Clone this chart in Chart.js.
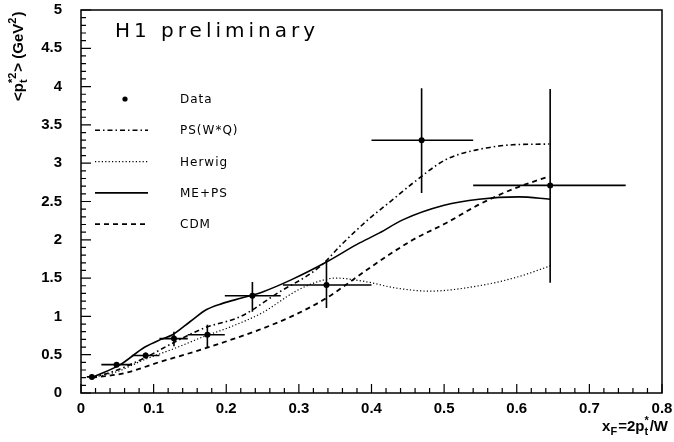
<!DOCTYPE html>
<html>
<head>
<meta charset="utf-8">
<script src="https://cdn.jsdelivr.net/npm/chart.js@4"></script>
<style>
  body { margin: 0; background: #fff; }
</style>
</head>
<body>
<canvas id="chart" width="674" height="442"></canvas>
<script>
// H1 data points with error bars
const dataX   = [0.015, 0.049, 0.089, 0.128, 0.174, 0.236, 0.338, 0.469, 0.646];
const dataY   = [0.21, 0.37, 0.49, 0.71, 0.76, 1.27, 1.41, 3.30, 2.71];
const dataXlo = [0.008, 0.028, 0.070, 0.108, 0.147, 0.198, 0.278, 0.400, 0.540];
const dataXhi = [0.022, 0.070, 0.108, 0.147, 0.198, 0.275, 0.400, 0.540, 0.750];
const dataYlo = [0.18, 0.34, 0.45, 0.61, 0.60, 1.06, 1.11, 2.61, 1.44];
const dataYhi = [0.24, 0.40, 0.53, 0.80, 0.89, 1.45, 1.71, 3.98, 3.97];

// model curves
const psX = [0.015, 0.05, 0.09, 0.126, 0.17, 0.22, 0.27, 0.329, 0.36, 0.395, 0.43, 0.457, 0.503, 0.548, 0.594, 0.645];
const psY = [0.20, 0.30, 0.47, 0.65, 0.85, 1.00, 1.30, 1.65, 1.95, 2.26, 2.53, 2.74, 3.05, 3.18, 3.24, 3.25];

const hwX = [0.015, 0.05, 0.086, 0.131, 0.17, 0.205, 0.25, 0.296, 0.325, 0.351, 0.388, 0.434, 0.48, 0.548, 0.603, 0.646];
const hwY = [0.20, 0.28, 0.43, 0.59, 0.74, 0.86, 1.05, 1.33, 1.45, 1.50, 1.46, 1.37, 1.33, 1.40, 1.52, 1.66];

const meX = [0.015, 0.054, 0.088, 0.11, 0.126, 0.15, 0.173, 0.195, 0.221, 0.25, 0.29, 0.338, 0.38, 0.411, 0.443, 0.5, 0.548, 0.603, 0.646];
const meY = [0.20, 0.37, 0.60, 0.70, 0.76, 0.93, 1.09, 1.17, 1.24, 1.32, 1.48, 1.71, 1.94, 2.09, 2.26, 2.45, 2.53, 2.56, 2.53];

const cdmX = [0.015, 0.06, 0.11, 0.16, 0.205, 0.244, 0.29, 0.338, 0.40, 0.457, 0.503, 0.548, 0.594, 0.645];
const cdmY = [0.20, 0.26, 0.41, 0.55, 0.69, 0.82, 1.00, 1.24, 1.65, 2.00, 2.22, 2.46, 2.66, 2.83];

const legendLabels = ['Data', 'PS(W*Q)', 'Herwig', 'ME+PS', 'CDM'];
const xTickStep = 0.1, yTickStep = 0.5;

const pts = (xs, ys) => xs.map((v, i) => ({ x: v, y: ys[i] }));

const styles = [
  null,
  { dash: [5, 3, 1.5, 3], width: 1.6 },
  { dash: [1.2, 2.2], width: 1.2 },
  { dash: [], width: 1.6 },
  { dash: [5, 4], width: 1.8 }
];

function lineSet(xs, ys, st) {
  return {
    type: 'scatter', data: pts(xs, ys), showLine: true, pointRadius: 0,
    borderColor: '#000', borderWidth: st.width, borderDash: st.dash,
    cubicInterpolationMode: 'monotone', fill: false
  };
}

// draws text with sub/superscripts, returns width
function rich(ctx, parts, x, y, size, fam, draw) {
  let cx = x;
  for (const p of parts) {
    if (p.t) {
      ctx.font = `bold ${size}px ${fam}`;
      if (draw) ctx.fillText(p.t, cx, y);
      cx += ctx.measureText(p.t).width;
    } else {
      ctx.font = `bold ${Math.round(size * 0.7)}px ${fam}`;
      let w = 0;
      if (p.sub) { if (draw) ctx.fillText(p.sub, cx, y + size * 0.28); w = Math.max(w, ctx.measureText(p.sub).width); }
      if (p.sup) { if (draw) ctx.fillText(p.sup, cx, y - size * 0.45); w = Math.max(w, ctx.measureText(p.sup).width); }
      cx += w + 1;
    }
  }
  return cx - x;
}

const decor = {
  id: 'decor',
  afterDatasetsDraw(chart) {
    const { ctx, chartArea: a, scales: { x, y } } = chart;
    ctx.save();
    ctx.strokeStyle = '#000';
    ctx.fillStyle = '#000';
    ctx.setLineDash([]);

    // error bars
    ctx.lineWidth = 1.6;
    ctx.beginPath();
    for (let i = 0; i < dataX.length; i++) {
      const px = x.getPixelForValue(dataX[i]), py = y.getPixelForValue(dataY[i]);
      ctx.moveTo(x.getPixelForValue(dataXlo[i]), py);
      ctx.lineTo(x.getPixelForValue(dataXhi[i]), py);
      ctx.moveTo(px, y.getPixelForValue(dataYlo[i]));
      ctx.lineTo(px, y.getPixelForValue(dataYhi[i]));
    }
    ctx.stroke();

    // frame
    ctx.lineWidth = 1.5;
    ctx.strokeRect(a.left, a.top, a.width, a.height);

    // inward ticks
    ctx.lineWidth = 1.2;
    ctx.beginPath();
    for (let k = 0; k <= 40; k++) {
      const px = x.getPixelForValue(k * 0.02);
      const len = k % 5 === 0 ? 9 : 5;
      ctx.moveTo(px, a.bottom);
      ctx.lineTo(px, a.bottom - len);
    }
    for (let k = 0; k <= 50; k++) {
      const py = y.getPixelForValue(k * 0.1);
      const len = k % 5 === 0 ? 10 : 5;
      ctx.moveTo(a.left, py);
      ctx.lineTo(a.left + len, py);
    }
    ctx.stroke();

    // H1 preliminary
    ctx.font = '20px "DejaVu Sans"';
    ctx.letterSpacing = '4px';
    ctx.textBaseline = 'alphabetic';
    ctx.fillText('H1 preliminary', a.left + 34, a.top + 27);

    // legend
    ctx.font = '12px "DejaVu Sans"';
    ctx.letterSpacing = '1px';
    ctx.textBaseline = 'middle';
    legendLabels.forEach((lab, i) => {
      const ly = a.top + 89 + i * 31.3;
      const st = styles[i];
      if (st) {
        ctx.setLineDash(st.dash);
        ctx.lineWidth = st.width;
        ctx.beginPath();
        ctx.moveTo(a.left + 14, ly);
        ctx.lineTo(a.left + 67, ly);
        ctx.stroke();
        ctx.setLineDash([]);
      } else {
        ctx.beginPath();
        ctx.arc(a.left + 44, ly, 2.6, 0, Math.PI * 2);
        ctx.fill();
      }
      ctx.fillText(lab, a.left + 99, ly + 1);
    });
    ctx.letterSpacing = '0px';

    // axis titles
    const fam = '"Liberation Sans", Arial, sans-serif';
    ctx.textBaseline = 'alphabetic';
    const xt = [{ t: 'x' }, { sub: 'F' }, { t: '=2p' }, { sub: 't', sup: '*' }, { t: '/W' }];
    const w = rich(ctx, xt, 0, 0, 15, fam, false);
    rich(ctx, xt, a.right + 6 - w, a.bottom + 38, 15, fam, true);

    ctx.translate(a.left - 58, a.top + 91);
    ctx.rotate(-Math.PI / 2);
    const yt = [{ t: '<p' }, { sub: 't', sup: '*2' }, { t: '> (GeV' }, { sup: '2' }, { t: ')' }];
    rich(ctx, yt, 0, 0, 15, fam, true);
    ctx.restore();
  }
};

new Chart('chart', {
  type: 'scatter',
  data: {
    datasets: [
      { type: 'scatter', data: pts(dataX, dataY), pointRadius: 3, pointBackgroundColor: '#000', pointBorderColor: '#000', borderWidth: 0 },
      lineSet(psX, psY, styles[1]),
      lineSet(hwX, hwY, styles[2]),
      lineSet(meX, meY, styles[3]),
      lineSet(cdmX, cdmY, styles[4])
    ]
  },
  options: {
    responsive: false,
    animation: false,
    layout: { padding: { top: 10, right: 12, left: 0, bottom: 0 } },
    plugins: { legend: { display: false }, tooltip: { enabled: false } },
    scales: {
      x: {
        type: 'linear', min: 0, max: 0.8,
        grid: { display: false, drawTicks: false },
        border: { display: false },
        ticks: {
          stepSize: xTickStep, maxRotation: 0, padding: 7, color: '#000',
          font: { family: '"Liberation Sans", Arial', size: 15, weight: 'bold' },
          callback: v => String(Math.round(v * 10) / 10)
        },
        afterFit: s => { s.height = 49; s.paddingLeft = 0; s.paddingRight = 0; }
      },
      y: {
        type: 'linear', min: 0, max: 5,
        grid: { display: false, drawTicks: false },
        border: { display: false },
        ticks: {
          stepSize: yTickStep, padding: 19, color: '#000',
          font: { family: '"Liberation Sans", Arial', size: 15, weight: 'bold' },
          callback: v => String(Math.round(v * 10) / 10)
        },
        afterFit: s => { s.width = 81; s.paddingTop = 0; s.paddingBottom = 0; }
      }
    }
  },
  plugins: [decor]
});
</script>
</body>
</html>
